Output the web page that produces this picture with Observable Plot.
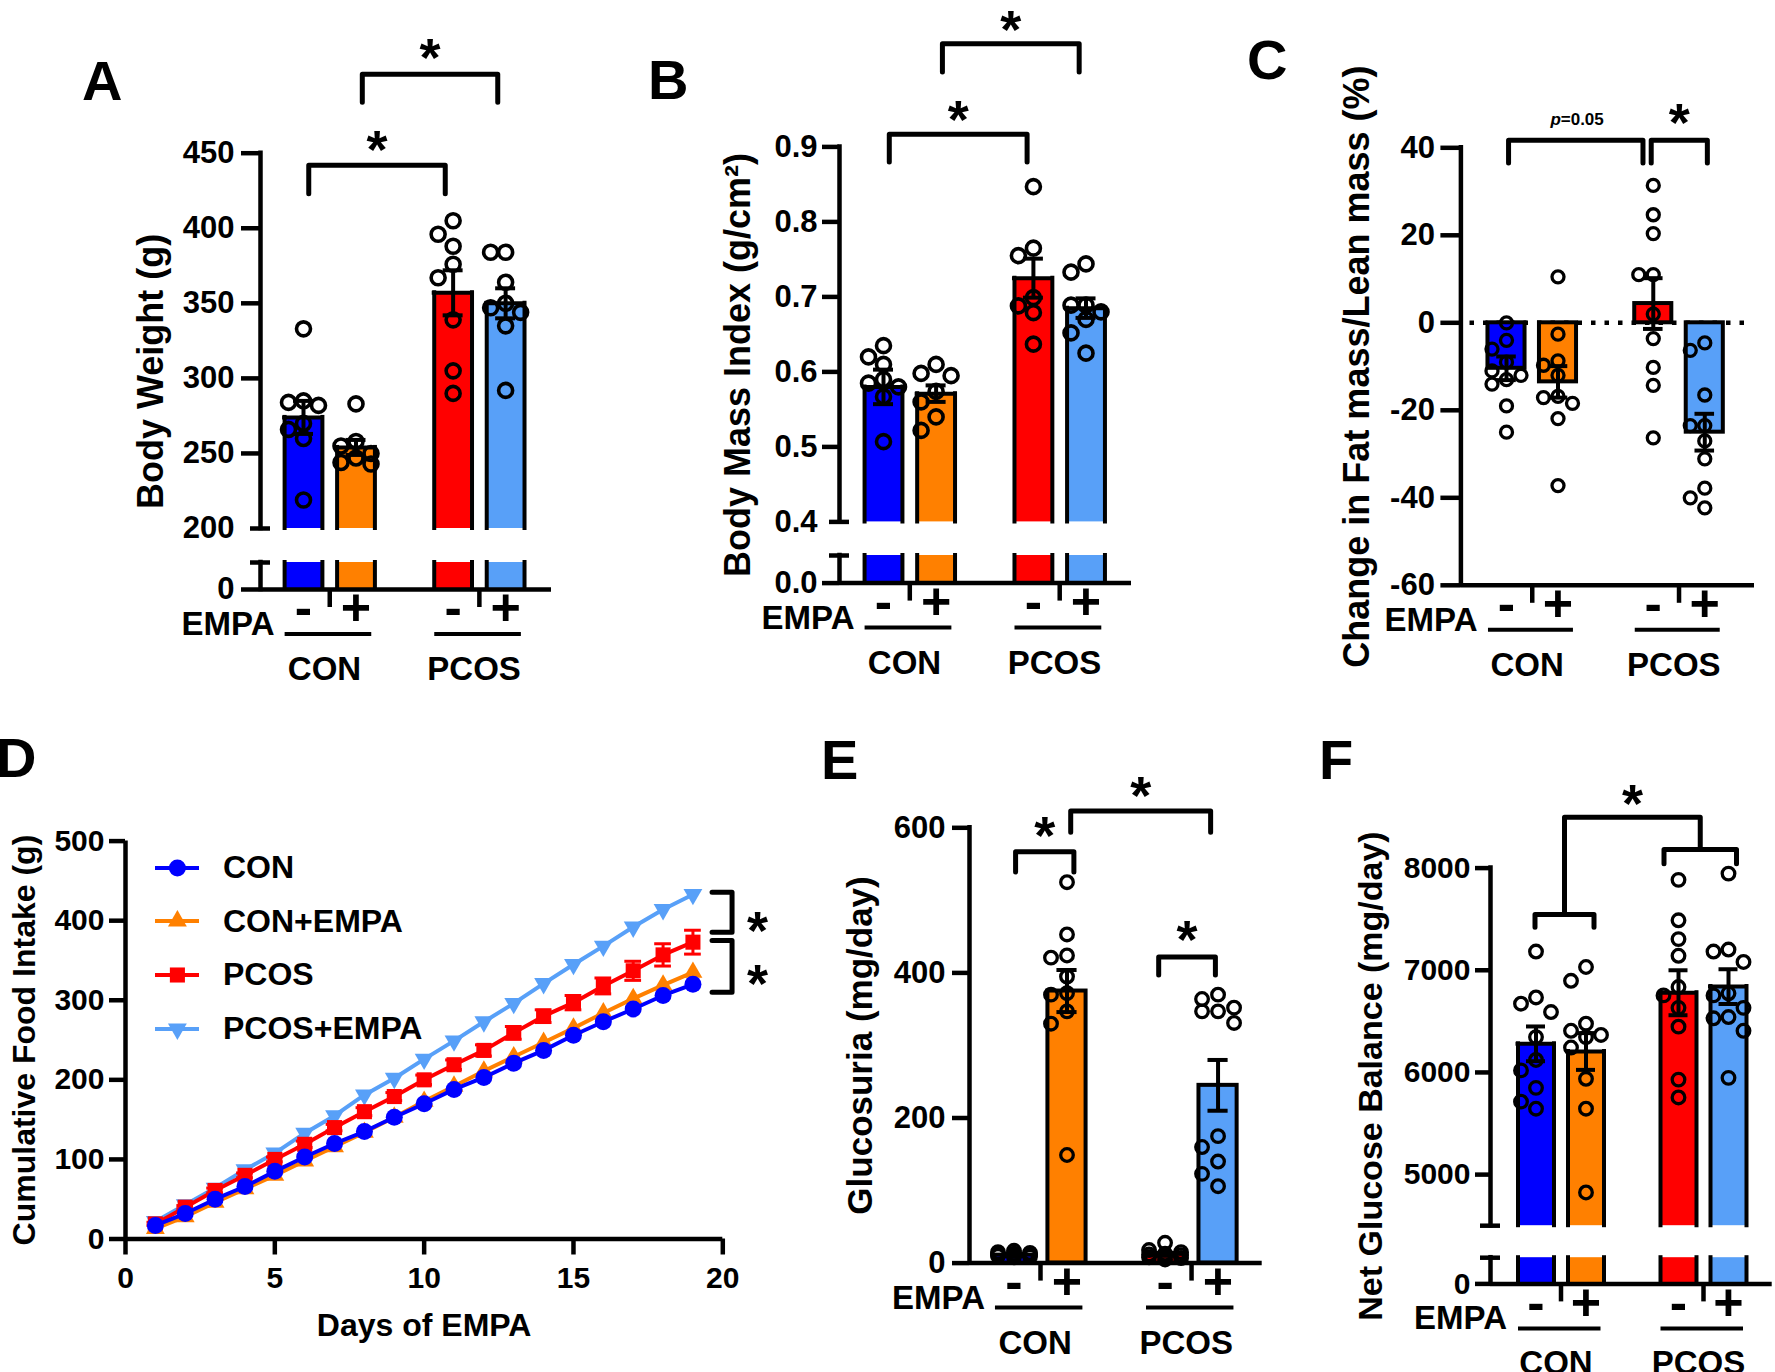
<!DOCTYPE html>
<html><head><meta charset="utf-8">
<script src="https://cdn.jsdelivr.net/npm/d3@7"></script>
<script src="https://cdn.jsdelivr.net/npm/@observablehq/plot@0.6"></script>
<style>
body{margin:0;background:#fff;}
#page{position:relative;width:1775px;height:1372px;overflow:hidden;background:#fff;font-family:"Liberation Sans",Arial,sans-serif;font-weight:bold;color:#000;}
.panel{position:absolute;}
</style></head><body><div id="page"></div>
<script>
// ---------------- DATA ----------------
const groups = ["CON", "PCOS"];
const empaLevels = ["-", "+"];
const barColors = ["#0000ff", "#ff8000", "#ff0000", "#58a0f8"];

// A: Body weight (g)
const bwMean = [274, 254, 357, 350];
const bwSem = [11, 5, 15, 10];
const bwPoints = [
  [333, 285, 284, 282, 270, 266, 260, 219],
  [283, 258, 255, 250, 247, 244, 243],
  [405, 396, 388, 376, 367, 339, 305, 290],
  [384, 384, 364, 350, 347, 344, 335, 292]
];
const bwTicks = [0, 200, 250, 300, 350, 400, 450];

// B: Body mass index (g/cm2)
const bmiMean = [0.580, 0.571, 0.725, 0.685];
const bmiSem = [0.023, 0.011, 0.026, 0.013];
const bmiPoints = [
  [0.635, 0.62, 0.61, 0.59, 0.585, 0.58, 0.567, 0.507],
  [0.61, 0.598, 0.595, 0.574, 0.56, 0.54, 0.522],
  [0.847, 0.765, 0.755, 0.699, 0.688, 0.679, 0.637],
  [0.744, 0.733, 0.689, 0.689, 0.68, 0.67, 0.652, 0.625]
];
const bmiTicks = [0, 0.4, 0.5, 0.6, 0.7, 0.8, 0.9];

// C: Change in fat mass / lean mass (%)
const fatMean = [-10.4, -13.5, 4.4, -25.0];
const fatSem = [2.7, 3.6, 5.8, 4.2];
const fatPoints = [
  [0, -4, -6, -9, -11, -12, -13, -14, -19, -25],
  [10.5, -2.6, -8.7, -9.7, -12, -16.8, -17.1, -18.4, -21.9, -37.2],
  [31.4, 24.7, 20.4, 11, 11, 2, -3.6, -10.2, -14.3, -26.3],
  [-4.6, -6.3, -16.5, -23.5, -23.5, -27, -31.1, -37.8, -40, -42.3]
];
const fatTicks = [-60, -40, -20, 0, 20, 40];

// D: Cumulative food intake (g)
const days = [1, 2, 3, 4, 5, 6, 7, 8, 9, 10, 11, 12, 13, 14, 15, 16, 17, 18, 19];
const foodSeries = ["CON", "CON+EMPA", "PCOS", "PCOS+EMPA"];
const foodCON      = [17, 32, 50, 66, 85, 103, 120, 135, 153, 170, 188, 203, 221, 237, 256, 273, 289, 306, 320];
const foodCONEMPA  = [13, 28, 46, 63, 80, 98, 116, 134, 153, 173, 192, 211, 229, 247, 265, 284, 302, 319, 335];
const foodPCOS     = [19, 40, 61, 80, 100, 119, 140, 160, 179, 200, 219, 237, 259, 280, 297, 318, 337, 357, 373];
const foodPCOSEMPA = [22, 43, 64, 87, 108, 133, 155, 181, 202, 226, 249, 273, 296, 321, 345, 368, 392, 414, 433];
const foodPCOSsem  = [2, 2, 3, 3, 3, 4, 4, 5, 5, 6, 6, 7, 8, 8, 9, 10, 12, 14, 15];
const foodTicksX = [0, 5, 10, 15, 20];
const foodTicksY = [0, 100, 200, 300, 400, 500];

// E: Glucosuria (mg/day)
const gluMean = [11, 375, 12, 245];
const gluSem = [1.5, 29, 2, 35];
const gluPoints = [
  [17, 15, 14, 13, 12, 12, 11, 10, 9, 8],
  [525, 453, 424, 421, 395, 372, 370, 347, 330, 149],
  [28, 18, 15, 13, 12, 11, 10, 8, 7, 5],
  [370, 364, 352, 347, 347, 331, 175, 160, 140, 123, 106]
];
const gluTicks = [0, 200, 400, 600];

// F: Net glucose balance (mg/day)
const netMean = [6280, 6205, 6780, 6840];
const netSem = [170, 180, 220, 170];
const netPoints = [
  [7183, 6734, 6673, 6591, 6346, 6122, 6020, 5849, 5714, 5645],
  [7032, 6897, 6477, 6408, 6367, 6346, 6244, 5938, 5645, 4825],
  [7885, 7489, 7305, 7142, 6836, 6754, 6632, 6448, 5930, 5755],
  [7946, 7203, 7183, 7081, 6775, 6754, 6632, 6542, 6530, 6408, 5947]
];
const netTicks = [0, 5000, 6000, 7000, 8000];

// ---------------- HELPERS ----------------
const FONT = '"Liberation Sans", Arial, Helvetica, sans-serif';
const G = 2.85; // group spacing in bar units
const page = d3.select("#page");
const baseStyle = {fontFamily: FONT, fontWeight: "bold", background: "transparent", overflow: "visible", color: "black"};

function swarm(vals, cx, ys, u, d, maxK) {
  const placed = [];
  return [...vals].sort((a, b) => b - a).map(v => {
    const py = ys(v);
    let best = 0, bestScore = -1;
    for (let k = 0; k <= 2 * maxK; k++) {
      const m = k === 0 ? 0 : (k % 2 ? -(k + 1) / 2 : k / 2);
      const px = m * d;
      let md = Infinity;
      for (const p of placed) md = Math.min(md, Math.hypot(p.px - px, p.py - py));
      if (md >= d * 0.98) { best = m; break; }
      if (md > bestScore) { bestScore = md; best = m; }
    }
    placed.push({px: best * d, py});
    return {x: cx + best * d / u, y: v};
  });
}

function mount(box, node) {
  page.append("div").attr("class", "panel")
    .style("left", box.left + "px").style("top", box.top + "px")
    .style("width", box.width + "px").style("height", box.height + "px")
    .node().appendChild(node);
}

function barPanel(cfg) {
  const {box, axisX, xEnd, c0, u, yDomain} = cfg;
  const L = box.left, T = box.top;
  const yRange = cfg.yRange.map(v => v - T);
  const ys = d3.scaleLinear().domain(yDomain).range(yRange);
  const Yp = py => ys.invert(py - T);
  const Xp = px => (px - c0) / u;
  const xd0 = Xp(axisX), xd1 = Xp(xEnd);
  const base = yDomain[0];
  const y0 = cfg.yRange[0];
  const broken = yDomain.length === 4;
  const Lv = broken ? yDomain[1] : null, U = broken ? yDomain[2] : null;
  const top = yDomain[yDomain.length - 1];
  const barBase = 0;
  const hw = 0.36, cap = 0.19;
  const bars = [];
  groups.forEach((g, gi) => empaLevels.forEach((e, ei) => {
    const i = gi * 2 + ei;
    bars.push({i, g, e, cx: gi * G + ei, mean: cfg.mean[i], sem: cfg.sem[i], color: barColors[i]});
  }));
  const marks = [];
  if (cfg.zeroLine) marks.push(Plot.ruleY([0], {x1: Xp(cfg.zeroLine[0]), x2: Xp(cfg.zeroLine[1]), stroke: "black", strokeWidth: 4.5, strokeDasharray: "4.5,9"}));
  bars.forEach(b => {
    if (broken) {
      marks.push(Plot.rect([[base, Lv], [U, b.mean]], {x1: b.cx - hw, x2: b.cx + hw, y1: d => d[0], y2: d => d[1], fill: b.color}));
      const sides = [[b.cx - hw, base, Lv], [b.cx + hw, base, Lv], [b.cx - hw, U, b.mean], [b.cx + hw, U, b.mean]];
      marks.push(Plot.ruleX(sides, {x: d => d[0], y1: d => d[1], y2: d => d[2], stroke: "black", strokeWidth: 4, strokeLinecap: "square"}));
      marks.push(Plot.ruleY([b.mean], {x1: b.cx - hw, x2: b.cx + hw, stroke: "black", strokeWidth: 4, strokeLinecap: "square"}));
    } else {
      marks.push(Plot.rect([b], {x1: b.cx - hw, x2: b.cx + hw, y1: barBase, y2: b.mean, fill: b.color, stroke: "black", strokeWidth: 4}));
    }
  });
  // axes
  const segs = broken ? [[base, Lv], [U, top]] : [[base, top]];
  marks.push(Plot.ruleX(segs, {x: xd0, y1: d => d[0], y2: d => d[1], stroke: "black", strokeWidth: 4.5, strokeLinecap: "square"}));
  if (broken) marks.push(Plot.ruleY([Lv, U], {x1: xd0 - 10 / u, x2: xd0 + 10 / u, stroke: "black", strokeWidth: 4.5}));
  marks.push(Plot.ruleY([base], {x1: xd0, x2: xd1, stroke: "black", strokeWidth: 4.5}));
  const fs = cfg.tickFont || 31;
  marks.push(Plot.axisY({ticks: cfg.ticks.filter(t => t !== U), tickSize: cfg.tickSize, tickPadding: cfg.tickPadding, tickFormat: cfg.fmt, fontSize: fs, strokeWidth: 4.5, label: null}));
  if (broken && cfg.ticks.includes(U)) marks.push(Plot.axisY({ticks: [U], tickSize: 0, tickPadding: cfg.tickSize + cfg.tickPadding, tickFormat: cfg.fmt, fontSize: fs, label: null}));
  // error bars
  marks.push(Plot.ruleX(bars, {x: "cx", y1: b => b.mean - b.sem, y2: b => b.mean + b.sem, stroke: "black", strokeWidth: 4}));
  marks.push(Plot.ruleY(bars, {y: b => b.mean + b.sem, x1: b => b.cx - cap, x2: b => b.cx + cap, stroke: "black", strokeWidth: 4}));
  marks.push(Plot.ruleY(bars, {y: b => b.mean - b.sem, x1: b => b.cx - cap, x2: b => b.cx + cap, stroke: "black", strokeWidth: 4}));
  // points
  const pts = bars.flatMap(b => swarm(cfg.points[b.i], b.cx, ys, u, cfg.swarmD, 1));
  marks.push(Plot.dot(pts, {x: "x", y: "y", r: cfg.r, stroke: "black", strokeWidth: cfg.rStroke || 3.6, fill: "none"}));
  // brackets
  const brPts = [];
  const starData = [];
  (cfg.brackets || []).forEach((br, k) => {
    const x1 = bars[br.a].cx + br.dx1, x2 = bars[br.b].cx + br.dx2;
    brPts.push({k, x: x1, y: br.leg}, {k, x: x1, y: br.y}, {k, x: x2, y: br.y}, {k, x: x2, y: br.leg});
    starData.push({x: (x1 + x2) / 2, y: br.ly, label: br.label});
  });
  if (cfg.tree) {
    const t = cfg.tree;
    const stems = [];
    t.sub.forEach((br, j) => {
      const k = 100 + j;
      const x1 = bars[br.a].cx + br.dx1, x2 = bars[br.b].cx + br.dx2;
      brPts.push({k, x: x1, y: br.leg}, {k, x: x1, y: br.y}, {k, x: x2, y: br.y}, {k, x: x2, y: br.leg});
      stems.push({x: (x1 + x2) / 2, y: br.y});
    });
    brPts.push({k: 200, x: stems[0].x, y: stems[0].y}, {k: 200, x: stems[0].x, y: t.top},
               {k: 200, x: stems[1].x, y: t.top}, {k: 200, x: stems[1].x, y: stems[1].y});
    starData.push({x: (stems[0].x + stems[1].x) / 2, y: t.ly, label: "*"});
  }
  if (brPts.length) marks.push(Plot.line(brPts, {x: "x", y: "y", z: "k", stroke: "black", strokeWidth: 5, strokeLinejoin: "round"}));
  marks.push(Plot.text(starData.filter(s => s.label === "*"), {x: "x", y: "y", text: "label", fontSize: 54, dy: 14}));
  const pv = starData.filter(s => s.label.startsWith("p="));
  if (pv.length) {
    marks.push(Plot.text(pv, {x: s => s.x - 15 / u, y: "y", text: () => "p", fontSize: 17, fontStyle: "italic", textAnchor: "end"}));
    marks.push(Plot.text(pv, {x: s => s.x - 15 / u, y: "y", text: s => s.label.slice(1), fontSize: 17, textAnchor: "start"}));
  }
  // category labels
  marks.push(Plot.text(bars, {x: "cx", y: Yp(y0 + 19), text: "e", fontSize: 52}));
  marks.push(Plot.ruleX(groups, {x: (g, i) => i * G + 0.5, y1: base, y2: Yp(y0 + 18), stroke: "black", strokeWidth: 4.5}));
  marks.push(Plot.ruleY(groups, {y: Yp(y0 + 44.5), x1: (g, i) => i * G - 0.35, x2: (g, i) => i * G + 1.3, stroke: "black", strokeWidth: 4}));
  marks.push(Plot.text(groups, {x: (g, i) => i * G + 0.4, y: Yp(y0 + 80), text: d => d, fontSize: 33}));
  marks.push(Plot.text(["EMPA"], {x: Xp(c0 - 29), y: Yp(y0 + 35), text: d => d, textAnchor: "end", fontSize: 33}));
  marks.push(Plot.text([cfg.title], {frameAnchor: "left", textAnchor: "middle", lineAnchor: "middle", rotate: -90, dx: -(axisX - cfg.titleX), text: d => d, fontSize: cfg.titleFont || 36}));

  const plot = Plot.plot({
    width: box.width, height: box.height,
    marginLeft: axisX - L, marginRight: L + box.width - xEnd,
    marginTop: cfg.yRange[cfg.yRange.length - 1] - T, marginBottom: T + box.height - y0,
    x: {type: "linear", domain: [xd0, xd1], range: [axisX - L, xEnd - L], axis: null},
    y: {type: "linear", domain: yDomain, range: yRange},
    style: baseStyle,
    marks
  });
  mount(box, plot);
}

// ---------------- PANELS A, B, C, E, F ----------------
barPanel({
  box: {left: 0, top: 0, width: 590, height: 700},
  axisX: 260, xEnd: 551, c0: 303, u: 52.5,
  yDomain: [0, 20, 200, 450], yRange: [589, 562, 528, 152.7],
  mean: bwMean, sem: bwSem, points: bwPoints, ticks: bwTicks,
  tickSize: 19, tickPadding: 7, fmt: d => String(d),
  title: "Body Weight (g)", titleX: 151, r: 7, swarmD: 15,
  brackets: [
    {a: 0, b: 2, dx1: 0.1, dx2: -0.15, y: 442, leg: 423, label: "*", ly: 461},
    {a: 1, b: 3, dx1: 0.12, dx2: -0.15, y: 502.6, leg: 484, label: "*", ly: 522}
  ]
});

barPanel({
  box: {left: 590, top: 0, width: 560, height: 700},
  axisX: 839, xEnd: 1131, c0: 883, u: 52.6,
  yDomain: [0, 0.04, 0.4, 0.9], yRange: [582.6, 555, 521.4, 146.4],
  mean: bmiMean, sem: bmiSem, points: bmiPoints, ticks: bmiTicks,
  tickSize: 17, tickPadding: 5, fmt: d => d.toFixed(1),
  title: "Body Mass Index (g/cm\u00B2)", titleX: 738, r: 7, swarmD: 15,
  brackets: [
    {a: 0, b: 2, dx1: 0.11, dx2: -0.12, y: 0.917, leg: 0.88, label: "*", ly: 0.954},
    {a: 1, b: 3, dx1: 0.12, dx2: -0.13, y: 1.0375, leg: 1.0, label: "*", ly: 1.073}
  ]
});

barPanel({
  box: {left: 1150, top: 0, width: 625, height: 700},
  axisX: 1460.4, xEnd: 1754, c0: 1506, u: 51.5,
  yDomain: [-60, 40], yRange: [584.8, 147.3],
  mean: fatMean, sem: fatSem, points: fatPoints, ticks: fatTicks,
  tickSize: 20, tickPadding: 6, fmt: d => String(d),
  title: "Change in Fat mass/Lean mass (%)", titleX: 1357, r: 6, rStroke: 3.3, swarmD: 14.5,
  zeroLine: [1469.5, 1752],
  brackets: [
    {a: 0, b: 2, dx1: 0.04, dx2: -0.2, y: 41.7, leg: 36.5, label: "p=0.05", ly: 46.5},
    {a: 2, b: 3, dx1: -0.04, dx2: 0.05, y: 41.7, leg: 36.5, label: "*", ly: 48.8}
  ]
});

barPanel({
  box: {left: 790, top: 700, width: 480, height: 672},
  axisX: 969, xEnd: 1261.7, c0: 1013.5, u: 53,
  yDomain: [0, 600], yRange: [1262.6, 827.3],
  mean: gluMean, sem: gluSem, points: gluPoints, ticks: gluTicks,
  tickSize: 17, tickPadding: 7, fmt: d => String(d),
  title: "Glucosuria (mg/day)", titleX: 860, titleFont: 35, r: 6.3, rStroke: 3.3, swarmD: 16,
  brackets: [
    {a: 0, b: 1, dx1: 0.03, dx2: 0.13, y: 567, leg: 539, label: "*", ly: 607},
    {a: 1, b: 3, dx1: 0.07, dx2: -0.14, y: 623, leg: 594, label: "*", ly: 662},
    {a: 2, b: 3, dx1: -0.12, dx2: -0.05, y: 422, leg: 397, label: "*", ly: 464}
  ]
});

barPanel({
  box: {left: 1270, top: 700, width: 505, height: 672},
  axisX: 1490, xEnd: 1771.7, c0: 1535.5, u: 50,
  yDomain: [0, 500, 4500, 8000], yRange: [1283.4, 1257.2, 1225.2, 867.6],
  mean: netMean, sem: netSem, points: netPoints, ticks: netTicks,
  tickSize: 15, tickPadding: 5, tickFont: 30, fmt: d => String(d),
  title: "Net Glucose Balance (mg/day)", titleX: 1371, titleFont: 34, r: 6.3, rStroke: 3.3, swarmD: 15,
  tree: {
    sub: [
      {a: 0, b: 1, dx1: -0.02, dx2: 0.16, y: 7546, leg: 7422},
      {a: 2, b: 3, dx1: -0.29, dx2: 0.16, y: 8182, leg: 8042}
    ],
    top: 8498, ly: 8760
  }
});

// ---------------- PANEL D ----------------
const triangleDown = {
  draw(context, size) {
    const y = -Math.sqrt(size / (Math.sqrt(3) * 3));
    context.moveTo(0, -y * 2);
    context.lineTo(-Math.sqrt(3) * y, y);
    context.lineTo(Math.sqrt(3) * y, y);
    context.closePath();
  }
};
(function foodPanel() {
  const box = {left: 0, top: 700, width: 790, height: 672};
  const vals = [foodCON, foodCONEMPA, foodPCOS, foodPCOSEMPA];
  const symbols = ["circle", "triangle", "square", triangleDown];
  const radii = [8.5, 7, 8.5, 7];
  const marks = [
    Plot.ruleX([0], {stroke: "black", strokeWidth: 4.5}),
    Plot.ruleY([0], {stroke: "black", strokeWidth: 4.5}),
    Plot.axisY({ticks: foodTicksY, tickSize: 16, tickPadding: 5, fontSize: 30, strokeWidth: 4.5, label: null}),
    Plot.axisX({ticks: foodTicksX, tickSize: 16, tickPadding: 12, fontSize: 30, strokeWidth: 4.5, label: null})
  ];
  [3, 2, 1, 0].forEach(s => {
    const data = days.map((d, i) => ({day: d, v: vals[s][i], sem: s === 2 ? foodPCOSsem[i] : 0}));
    marks.push(Plot.line(data, {x: "day", y: "v", stroke: barColors[s], strokeWidth: 4}));
    if (s === 2) {
      marks.push(Plot.ruleX(data, {x: "day", y1: d => d.v - d.sem, y2: d => d.v + d.sem, stroke: barColors[s], strokeWidth: 3}));
      marks.push(Plot.ruleY(data, {y: d => d.v + d.sem, x1: d => d.day - 0.28, x2: d => d.day + 0.28, stroke: barColors[s], strokeWidth: 3}));
      marks.push(Plot.ruleY(data, {y: d => d.v - d.sem, x1: d => d.day - 0.28, x2: d => d.day + 0.28, stroke: barColors[s], strokeWidth: 3}));
    }
    marks.push(Plot.dot(data, {x: "day", y: "v", r: radii[s], symbol: symbols[s], fill: barColors[s], stroke: "none"}));
  });
  const last = days[days.length - 1];
  const sig = [{top: 435.7, bottom: 385.4, ly: 404}, {top: 375, bottom: 310, ly: 337}];
  const brPts = sig.flatMap((b, k) => [
    {k, x: last + 0.64, y: b.top}, {k, x: last + 1.31, y: b.top},
    {k, x: last + 1.31, y: b.bottom}, {k, x: last + 0.64, y: b.bottom}
  ]);
  marks.push(Plot.line(brPts, {x: "x", y: "y", z: "k", stroke: "black", strokeWidth: 5, strokeLinejoin: "round"}));
  marks.push(Plot.text(sig, {x: last + 2.16, y: "ly", text: () => "*", fontSize: 54, dy: 14}));
  marks.push(Plot.text(["Cumulative Food Intake (g)"], {frameAnchor: "left", textAnchor: "middle", lineAnchor: "middle", rotate: -90, dx: -101, text: d => d, fontSize: 32}));
  marks.push(Plot.text(["Days of EMPA"], {frameAnchor: "bottom", textAnchor: "middle", lineAnchor: "middle", dy: 87, text: d => d, fontSize: 32}));
  const plot = Plot.plot({
    width: box.width, height: box.height,
    marginLeft: 125, marginRight: box.width - 722.3, marginTop: 840.6 - 700, marginBottom: 1372 - 1238.5,
    x: {type: "linear", domain: [0, 20]},
    y: {type: "linear", domain: [0, 500]},
    style: baseStyle,
    marks
  });
  mount(box, plot);

  // legend
  const legend = page.append("div").style("position", "absolute").style("left", "155px").style("top", "841px");
  foodSeries.forEach((name, i) => {
    const row = legend.append("div").style("display", "flex").style("align-items", "center").style("height", "53.6px");
    const svg = row.append("svg").attr("width", 44).attr("height", 24).style("overflow", "visible");
    svg.append("line").attr("x1", 0).attr("x2", 44).attr("y1", 12).attr("y2", 12).attr("stroke", barColors[i]).attr("stroke-width", 4);
    const symType = i === 0 ? d3.symbolCircle : i === 1 ? d3.symbolTriangle : i === 2 ? d3.symbolSquare : triangleDown;
    svg.append("path").attr("transform", "translate(22.4,12)").attr("d", d3.symbol(symType, Math.PI * radii[i] * radii[i])()).attr("fill", barColors[i]);
    row.append("span").style("margin-left", "24px").style("font-size", "32px").style("font-weight", "bold").style("font-family", FONT).text(name);
  });
})();

// ---------------- PANEL LETTERS ----------------
const letterLayout = [
  {t: "A", x: 82, y: 100}, {t: "B", x: 648, y: 99}, {t: "C", x: 1247, y: 79},
  {t: "D", x: -4, y: 777}, {t: "E", x: 821, y: 779}, {t: "F", x: 1319, y: 779}
];
const ov = page.append("svg").attr("width", 1775).attr("height", 1372)
  .style("position", "absolute").style("left", "0px").style("top", "0px").style("pointer-events", "none");
ov.selectAll("text").data(letterLayout).join("text")
  .attr("x", d => d.x).attr("y", d => d.y).text(d => d.t)
  .attr("font-family", FONT).attr("font-weight", "bold").attr("font-size", 56);
</script></body></html>
